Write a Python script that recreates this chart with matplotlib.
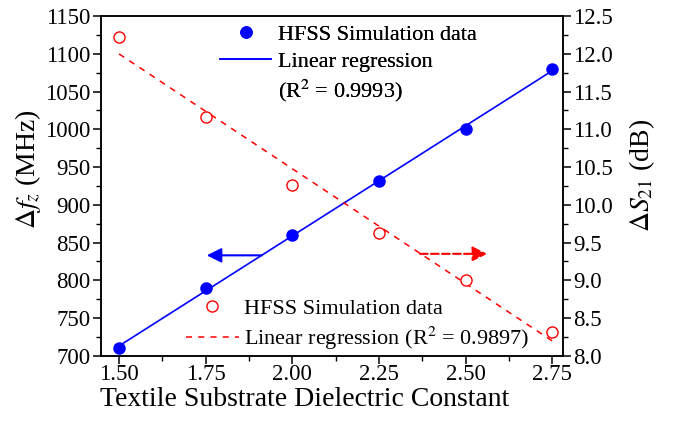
import numpy as np
import matplotlib
matplotlib.use("Agg")
import matplotlib.pyplot as plt
from matplotlib.lines import Line2D
from matplotlib.ticker import MultipleLocator

plt.rcParams["font.family"] = ["Liberation Serif", "DejaVu Serif"]
plt.rcParams["mathtext.fontset"] = "stix"

eps = [1.50, 1.75, 2.00, 2.25, 2.50, 2.75]
df_mhz = [710, 790, 860, 932, 1000, 1080]
ds21_db = [12.22, 11.16, 10.26, 9.62, 9.00, 8.32]

fig = plt.figure(figsize=(6.78, 4.22), dpi=100)
ax = fig.add_axes([0.149, 0.157, 0.681, 0.805])
ax2 = ax.twinx()

# blue: frequency shift
p1 = np.polyfit(eps, df_mhz, 1)
xf = np.array([eps[0], eps[-1]])
ax.plot(xf, np.polyval(p1, xf), color="blue", lw=1.2)
ax.plot(eps, df_mhz, "o", color="blue", ms=8)

# red: S21 change
p2 = np.polyfit(eps, ds21_db, 1)
ax2.plot(xf, np.polyval(p2, xf), color="red", lw=1.1, ls=(0, (4, 4)))
ax2.plot(eps, ds21_db, "o", mfc="white", mec="red", mew=1.0, ms=8)

ax.set_xlim(1.448, 2.78)
ax.set_ylim(700, 1150)
ax2.set_ylim(8.0, 12.5)

ax.xaxis.set_major_locator(MultipleLocator(0.25))
ax.xaxis.set_minor_locator(MultipleLocator(0.125))
ax.yaxis.set_major_locator(MultipleLocator(50))
ax.yaxis.set_minor_locator(MultipleLocator(25))
ax2.yaxis.set_major_locator(MultipleLocator(0.5))
ax2.yaxis.set_minor_locator(MultipleLocator(0.25))

ax.tick_params(axis="both", which="major", direction="out", length=5.5, width=1.1,
               labelsize=16.5, top=False, right=False, pad=2)
ax.tick_params(axis="x", which="major", pad=0.5)
ax.tick_params(axis="both", which="minor", direction="out", length=3.5, width=1.0,
               top=False, right=False)
ax2.tick_params(axis="y", which="major", direction="out", length=5.5, width=1.1,
                labelsize=16.5, pad=2)
ax2.tick_params(axis="y", which="minor", direction="out", length=3.5, width=1.0)
ax.set_xticklabels([f"{v:.2f}" for v in ax.get_xticks()])

for a in (ax, ax2):
    for s in a.spines.values():
        s.set_linewidth(1.1)

ax.set_xlabel("Textile Substrate Dielectric Constant", fontsize=20)
ax.xaxis.set_label_coords(0.44, -0.092)
ax.set_ylabel(r"$\Delta f_{z}$ (MHz)", fontsize=20)
ax.yaxis.set_label_coords(-0.125, 0.55)
ax2.set_ylabel(r"$\Delta S_{21}$ (dB)", fontsize=20)
ax2.yaxis.set_label_coords(1.14, 0.53)

# arrows pointing to each axis
ax.annotate("", xy=(1.745, 833), xytext=(1.92, 833),
            arrowprops=dict(arrowstyle="-|>", color="blue", lw=1.5, mutation_scale=22))
ax2.annotate("", xy=(2.57, 9.35), xytext=(2.36, 9.35),
             arrowprops=dict(arrowstyle="-|>", color="red", lw=1.5, ls="--",
                             mutation_scale=22))

h_top = [Line2D([], [], ls="none", marker="o", color="blue", ms=8),
         Line2D([], [], color="blue", lw=1.2),
         Line2D([], [], ls="none")]
lab_top = ["HFSS Simulation data", "Linear regression", r"(R$^2$ = 0.9993)"]
leg1 = ax.legend(h_top, lab_top, loc="upper left", bbox_to_anchor=(0.258, 0.976),
                 frameon=False, fontsize=16, handlelength=2.3, handletextpad=0.3,
                 labelspacing=0.28, borderpad=0, borderaxespad=0)
ax.add_artist(leg1)

h_bot = [Line2D([], [], ls="none", marker="o", mfc="white", mec="red", ms=8),
         Line2D([], [], color="red", lw=1.1, ls=(0, (4, 4)))]
lab_bot = ["HFSS Simulation data", r"Linear regression (R$^2$ = 0.9897)"]
ax2.legend(h_bot, lab_bot, loc="upper left", bbox_to_anchor=(0.183, 0.17),
           frameon=False, fontsize=16, handlelength=2.4, handletextpad=0.22,
           labelspacing=0.3, borderpad=0, borderaxespad=0)

fig.savefig("out.png", dpi=100)
